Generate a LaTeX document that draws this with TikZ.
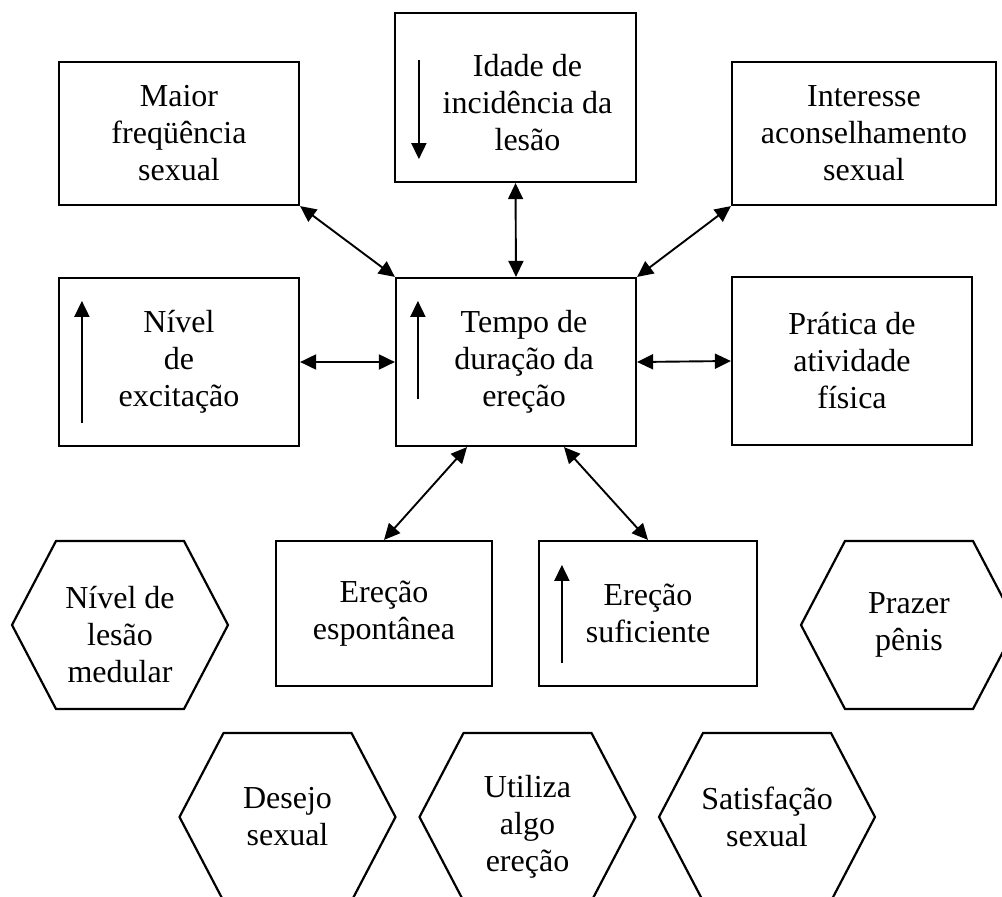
\documentclass[tikz,border=0pt]{standalone}
\usepackage{fontspec}
\setmainfont{Liberation Serif}
\usetikzlibrary{arrows.meta,calc}
\begin{document}
\begin{tikzpicture}[x=1pt,y=-1pt,
  txt/.style={align=center, inner sep=0pt, font=\fontsize{32}{37}\selectfont},
  box/.style={txt, draw, line width=2.2pt},
  hex/.style={draw, line width=2.2pt, line join=miter},
  link/.style={{Triangle[length=16pt,width=15pt]}-{Triangle[length=16pt,width=15pt]}, line width=1.9pt},
  trend/.style={-{Triangle[length=16pt,width=15pt]}, line width=1.9pt}]
\useasboundingbox (0,0) rectangle (1002,897);
\clip (0,0) rectangle (1002,897);
\fill[white] (0,0) rectangle (1002,897);

% rectangular boxes
\node[box, minimum width=240pt, minimum height=143pt] (maior) at (179,133.5) {Maior\\freqüência\\sexual};
\node[box, minimum width=241pt, minimum height=169pt] (idade) at (515.5,97.5) {};
\node[txt] (idadet) at ([xshift=12pt,yshift=-5pt]idade.center) {Idade de\\incidência da\\lesão};
\node[box, minimum width=264pt, minimum height=143pt] (interesse) at (864,133.5) {Interesse\\aconselhamento\\sexual};
\node[box, minimum width=240pt, minimum height=168pt] (nivel) at (179,362) {Nível\\de\\excitação};
\node[box, minimum width=240pt, minimum height=168pt] (tempo) at (516,362) {};
\node[txt] (tempot) at ([xshift=8pt]tempo.center) {Tempo de\\duração da\\ereção};
\node[box, minimum width=240pt, minimum height=168pt] (pratica) at (852,361) {Prática de\\atividade\\física};
\node[box, minimum width=216pt, minimum height=145pt] (espont) at (384,613.5) {Ereção\\espontânea};
\node[box, minimum width=218pt, minimum height=145pt] (sufic) at (648,613.5) {Ereção\\suficiente};

% hexagon labels
\node[txt] (lesao) at (120,635) {Nível de\\lesão\\medular};
\node[txt] (prazer) at (909,625) {Prazer\\pênis};
\node[txt] (desejo) at (287.5,817) {Desejo\\sexual};
\node[txt] (utiliza) at (527.5,827) {Utiliza\\algo\\ereção};
\node[txt] (satisf) at (767,817) {Satisfação\\sexual};

% hexagons
\foreach \c in {([yshift=10pt]lesao.center), (prazer.center), (desejo.center), ([yshift=10pt]utiliza.center), (satisf.center)}{
  \draw[hex] \c ++(-108,0) -- ++(44,-84) -- ++(128,0) -- ++(44,84) -- ++(-44,84) -- ++(-128,0) -- cycle;
}

% connectors
\draw[link] (maior.south east) -- (tempo.north west);
\draw[link] (idade.south) -- (tempo.north);
\draw[link] (interesse.south west) -- (tempo.north east);
\draw[link] (nivel.east) -- (tempo.west);
\draw[link] (tempo.east) -- (pratica.west);
\draw[link] ([xshift=-49pt]tempo.south) -- (espont.north);
\draw[link] ([xshift=48pt]tempo.south) -- (sufic.north);

% trend arrows inside boxes
\draw[trend] ([shift={(25,48)}]idade.north west) -- ([shift={(25,-24)}]idade.south west);
\draw[trend] ([shift={(24,-24)}]nivel.south west) -- ([shift={(24,24)}]nivel.north west);
\draw[trend] ([shift={(23,-48)}]tempo.south west) -- ([shift={(23,24)}]tempo.north west);
\draw[trend] ([shift={(24,-24)}]sufic.south west) -- ([shift={(24,25)}]sufic.north west);
\end{tikzpicture}
\end{document}
